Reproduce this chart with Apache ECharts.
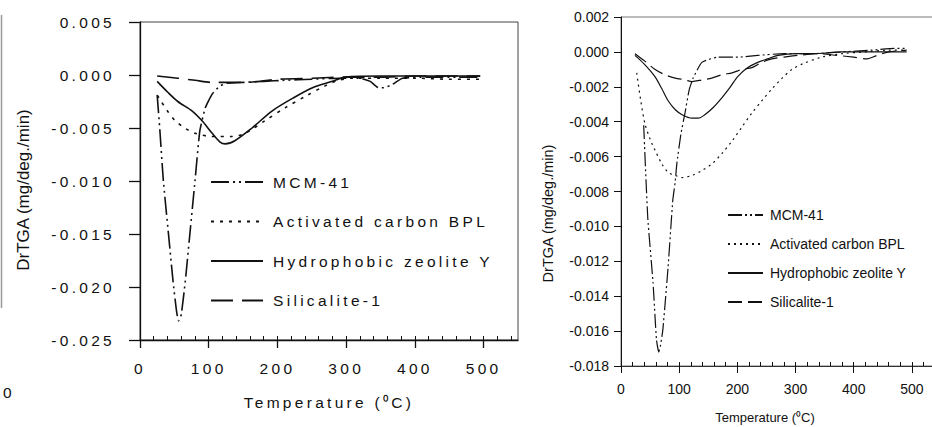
<!DOCTYPE html>
<html><head><meta charset="utf-8">
<script src="https://cdn.jsdelivr.net/npm/echarts@6/dist/echarts.min.js"></script>
<style>
html,body{margin:0;padding:0;background:#fff;}
#wrap{position:relative;width:932px;height:427px;overflow:hidden;background:#fff;}
#left{position:absolute;left:0;top:0;width:530px;height:427px;}
#right{position:absolute;left:530px;top:0;width:402px;height:427px;}
</style></head><body>
<div id="wrap"><div id="left"></div><div id="right"></div></div>
<script>
// ---------- data ----------
const seriesNames = ['MCM-41', 'Activated carbon BPL', 'Hydrophobic zeolite Y', 'Silicalite-1'];
const xTickValues = [0, 100, 200, 300, 400, 500];
const xMinorValues = [0, 20, 40, 60, 80, 100, 120, 140, 160, 180, 200, 220, 240, 260, 280, 300, 320, 340, 360, 380, 400, 420, 440, 460, 480, 500, 520, 540];
const xTitle = 'Temperature (\u2070C)';
const yTitle = 'DrTGA (mg/deg./min)';

// left panel  [temperature, DrTGA]
const leftMCM = [[25,-0.0019],[29,-0.0053],[34,-0.0100],[41,-0.0147],[48,-0.0194],[53,-0.0222],[56,-0.0232],[60,-0.0226],[66,-0.0194],[73,-0.0147],[80,-0.0100],[87,-0.0053],[95,-0.0031],[105,-0.0018],[115,-0.0011],[124,-0.0008],[150,-0.0007],[180,-0.0006],[210,-0.0005],[250,-0.0004],[290,-0.0003],[320,-0.0003],[335,-0.0006],[347,-0.0012],[355,-0.0012],[367,-0.0009],[382,-0.0003],[420,-0.0002],[460,-0.0002],[495,-0.0002]];
const leftBPL = [[25,-0.0019],[29,-0.0023],[40,-0.0034],[51,-0.0043],[65,-0.0050],[80,-0.0055],[105,-0.0058],[134,-0.0058],[153,-0.0055],[182,-0.0043],[211,-0.0031],[241,-0.0020],[270,-0.0010],[289,-0.0005],[310,-0.0003],[350,-0.0003],[400,-0.0003],[450,-0.0004],[495,-0.0004]];
const leftHZY = [[25,-0.0006],[40,-0.0016],[55,-0.0025],[76,-0.0034],[90,-0.0043],[105,-0.0055],[116,-0.0063],[124,-0.0065],[138,-0.0062],[163,-0.0050],[192,-0.0034],[222,-0.0022],[251,-0.0012],[280,-0.0006],[299,-0.0002],[350,-0.0001],[400,-0.0001],[450,-0.0001],[495,-0.0001]];
const leftSIL = [[25,-0.0001],[55,-0.0003],[80,-0.0005],[105,-0.0007],[130,-0.0007],[150,-0.0007],[175,-0.0006],[201,-0.0004],[251,-0.0003],[300,-0.0002],[350,-0.0002],[400,-0.0001],[450,-0.0001],[495,-0.0001]];

// right panel
const rightMCM = [[39,-0.0042],[46,-0.0095],[55,-0.0132],[61,-0.0165],[65,-0.0172],[68,-0.0168],[72,-0.0159],[81,-0.0123],[89,-0.0085],[93,-0.0075],[96,-0.0064],[103,-0.0047],[110,-0.0035],[117,-0.0022],[124,-0.0015],[139,-0.0006],[167,-0.0003],[201,-0.0003],[235,-0.0002],[280,-0.0001],[330,-0.0001],[380,0.0000],[430,0.0001],[470,0.0002],[491,0.0002]];
const rightBPL = [[27,-0.0012],[34,-0.0028],[41,-0.0041],[50,-0.0050],[58,-0.0056],[70,-0.0064],[81,-0.0069],[95,-0.0071],[105,-0.0072],[120,-0.0071],[139,-0.0068],[157,-0.0064],[174,-0.0058],[191,-0.0051],[208,-0.0043],[225,-0.0035],[242,-0.0028],[260,-0.0021],[277,-0.0015],[294,-0.0010],[311,-0.0007],[345,-0.0003],[380,-0.0001],[420,0.0000],[460,0.0001],[491,0.0001]];
const rightHZY = [[24,-0.0002],[40,-0.0007],[58,-0.0014],[70,-0.0021],[81,-0.0028],[93,-0.0033],[105,-0.0036],[122,-0.0038],[133,-0.0038],[144,-0.0036],[158,-0.0032],[174,-0.0026],[188,-0.0020],[201,-0.0014],[218,-0.0009],[235,-0.0006],[252,-0.0004],[270,-0.0002],[300,-0.0001],[330,-0.0001],[380,0.0000],[430,0.0000],[491,0.0000]];
const rightSIL = [[24,-0.0001],[40,-0.0005],[58,-0.0010],[75,-0.0013],[93,-0.0015],[110,-0.0016],[122,-0.0017],[140,-0.0016],[156,-0.0015],[174,-0.0013],[191,-0.0012],[208,-0.0010],[225,-0.0009],[242,-0.0006],[259,-0.0004],[280,-0.0003],[304,-0.0002],[340,-0.0001],[371,-0.0002],[400,-0.0003],[423,-0.0004],[440,-0.0002],[460,0.0000],[491,0.0001]];

// ---------- styles ----------
const INK = '#111';
const leftDash = [[18,4,2,4,2,4], [3,6], 'solid', [22,9]];
const rightDash = [[14,3,2,3,2,3], [2,4], 'solid', [14,6]];
const LFONT = 'Liberation Sans, Arial, sans-serif';

function makeSeries(datas, dashes, width, smooths) {
  return datas.map((d, i) => ({
    name: seriesNames[i], type: 'line', data: d, showSymbol: false, symbol: 'none',
    smooth: smooths[i], animation: false, silent: true,
    lineStyle: { color: INK, width: width, type: dashes[i] },
    itemStyle: { color: INK }
  }));
}

function baseAxes(o) {
  return {
    xAxis: [{
      type: 'value', min: 0, max: 550, position: 'bottom',
      axisLine: { show: true, onZero: false, lineStyle: { color: INK, width: o.axisW } },
      axisTick: { show: true, inside: false, length: o.xTickLen, customValues: xTickValues, lineStyle: { color: INK, width: o.axisW } },
      axisLabel: { show: true, customValues: xTickValues, margin: o.xLabMargin, color: INK, fontSize: o.fs, fontFamily: LFONT },
      splitLine: { show: false },
      name: xTitle, nameLocation: 'middle', nameGap: o.xNameGap,
      nameTextStyle: { color: INK, fontSize: o.xNameFs, fontFamily: LFONT, padding: o.xNamePad }
    }, {
      type: 'value', min: 0, max: 550, position: 'bottom', gridIndex: 0,
      axisLine: { show: false, onZero: false }, axisLabel: { show: false }, splitLine: { show: false },
      axisTick: { show: true, inside: true, length: 4, customValues: xMinorValues, lineStyle: { color: INK, width: 1 } }
    }],
    yAxis: [{
      type: 'value', min: o.yMin, max: o.yMax, interval: o.yStep,
      axisLine: { show: true, onZero: false, lineStyle: { color: INK, width: o.axisW } },
      axisTick: { show: true, inside: false, length: o.yTickLen, lineStyle: { color: INK, width: o.axisW } },
      axisLabel: { margin: o.yLabMargin, color: INK, fontSize: o.fs, fontFamily: LFONT, formatter: v => v.toFixed(3) },
      splitLine: { show: false },
      name: yTitle, nameLocation: 'middle', nameGap: o.yNameGap,
      nameTextStyle: { color: INK, fontSize: o.yNameFs, fontFamily: 'Arial, sans-serif', padding: o.yNamePad }
    }]
  };
}

// ---------- left chart ----------
const leftChart = echarts.init(document.getElementById('left'), null, { renderer: 'svg' });
const la = baseAxes({ axisW: 1.3, xTickLen: 8, yTickLen: 11, xLabMargin: 20, yLabMargin: 25, fs: 15.5, xNameFs: 15.5,
  xNameGap: 54, xNamePad: [0,0,0,0], yMin: -0.025, yMax: 0.005, yStep: 0.005, yNameGap: 108, yNameFs: 17, yNamePad: [0,18,0,0] });
leftChart.setOption({
  animation: false,
  backgroundColor: '#fff',
  grid: { left: 140, top: 22, width: 378, height: 318, show: true, borderColor: '#444', borderWidth: 1, backgroundColor: 'transparent', outerBoundsMode: 'none', containLabel: false },
  xAxis: la.xAxis, yAxis: la.yAxis,
  legend: {
    show: true, orient: 'vertical', left: 210, top: 174, padding: 0, itemWidth: 52, itemHeight: 14, itemGap: 23.5,
    itemStyle: { opacity: 0 },
    textStyle: { color: INK, fontSize: 15.5, fontFamily: LFONT, padding: [0,0,0,5] },
    data: seriesNames, selectedMode: false
  },
  graphic: [
    { type: 'line', shape: { x1: 1.5, y1: 15, x2: 1.5, y2: 308 }, style: { stroke: '#999', lineWidth: 1.5 }, silent: true },
    { type: 'text', left: 3, top: 384, style: { text: '0', fill: INK, fontSize: 15.5, fontFamily: LFONT } }
  ],
  series: makeSeries([leftMCM, leftBPL, leftHZY, leftSIL], leftDash, 1.6, [0.15, 0.3, 0.3, 0.3])
});

// ---------- right chart ----------
const rightChart = echarts.init(document.getElementById('right'), null, { renderer: 'svg' });
const ra = baseAxes({ axisW: 1, xTickLen: 7, yTickLen: 7, xLabMargin: 16, yLabMargin: 12, fs: 14, xNameFs: 13,
  xNameGap: 45, xNamePad: [0,32,0,0], yMin: -0.018, yMax: 0.002, yStep: 0.002, yNameGap: 66, yNameFs: 14.5, yNamePad: [0,44,0,0] });
ra.xAxis[0].axisLine.lineStyle.color = '#333';
rightChart.setOption({
  animation: false,
  backgroundColor: '#fff',
  grid: { left: 91, top: 17, width: 320, height: 349, show: true, borderColor: '#777', borderWidth: 1, backgroundColor: 'transparent', outerBoundsMode: 'none', containLabel: false },
  xAxis: ra.xAxis, yAxis: ra.yAxis,
  legend: {
    show: true, orient: 'vertical', left: 197, top: 208, padding: 0, itemWidth: 35, itemHeight: 12, itemGap: 15,
    itemStyle: { opacity: 0 },
    textStyle: { color: INK, fontSize: 14, fontFamily: LFONT, padding: [0,0,0,2] },
    data: seriesNames, selectedMode: false
  },
  series: makeSeries([rightMCM, rightBPL, rightHZY, rightSIL], rightDash, 1.2, [0.15, 0.3, 0.3, 0.3])
});

// wide letter spacing of the left figure's lettering (not its y title)
function spaceLeft() {
  document.querySelectorAll('#left text').forEach(t => {
    if (!t.textContent.startsWith('DrTGA')) t.style.letterSpacing = '3.3px';
  });
}
spaceLeft();
new MutationObserver(spaceLeft).observe(document.getElementById('left'), { childList: true, subtree: true });
</script>
</body></html>
